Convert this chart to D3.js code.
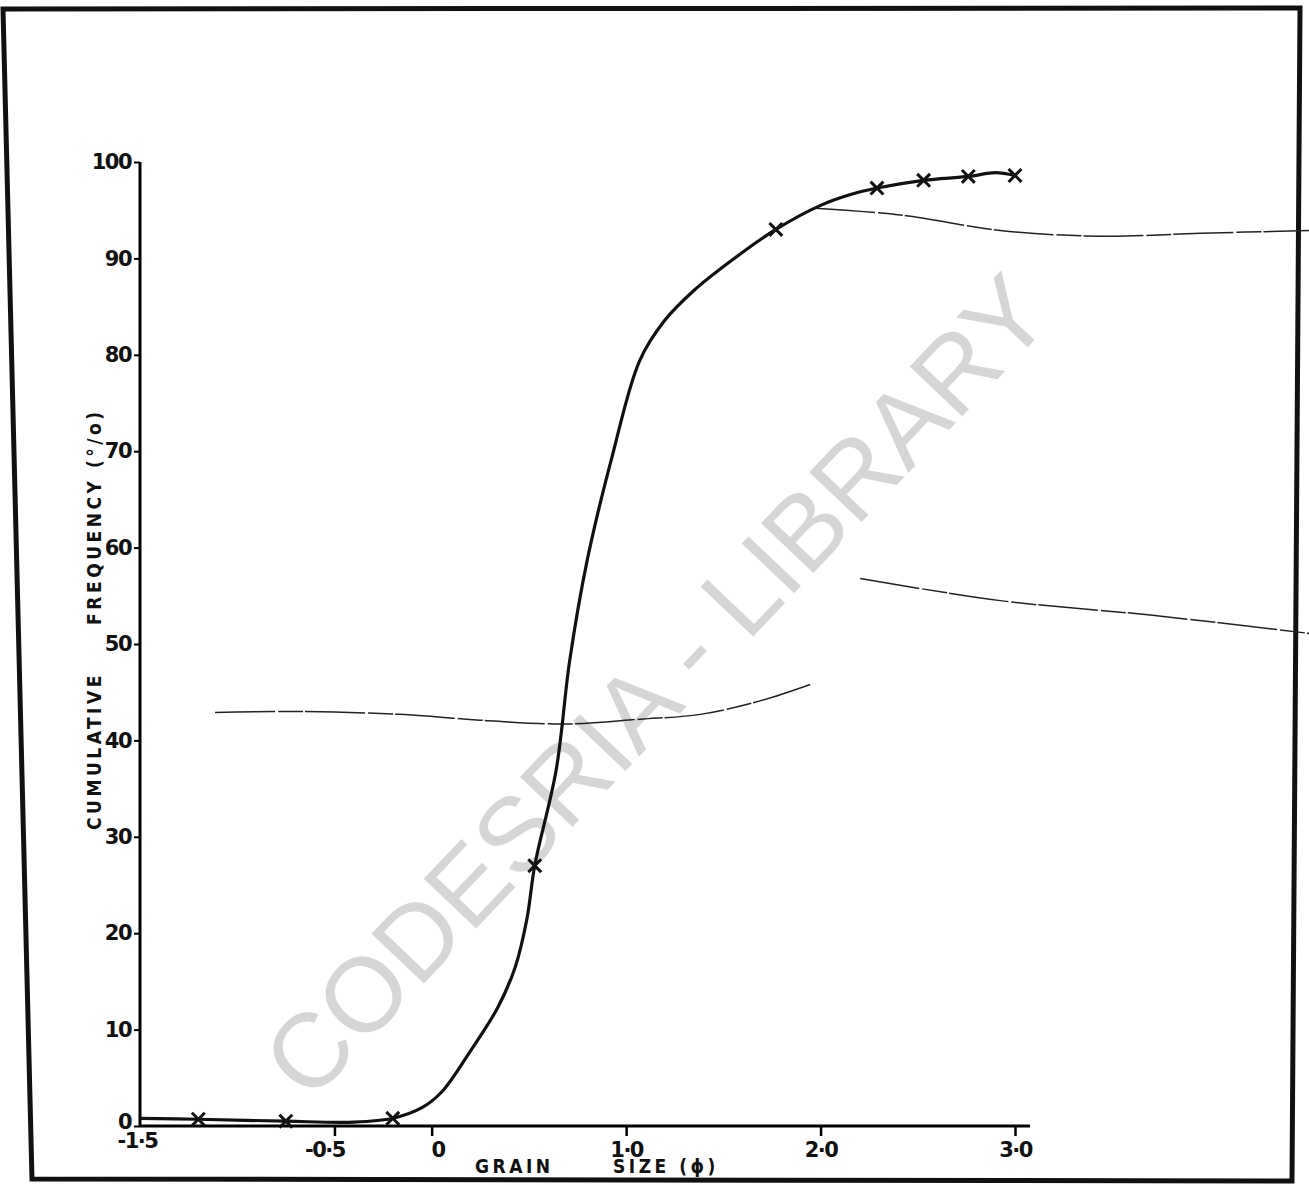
<!DOCTYPE html>
<html>
<head>
<meta charset="utf-8">
<script src="https://cdn.jsdelivr.net/npm/d3@7"></script>
<style>
  body { margin: 0; background: #fff; }
  svg { display: block; }
  .tick text { font-family: "DejaVu Sans", sans-serif; font-weight: bold; font-size: 21px; letter-spacing: -1.5px; fill: #111; }
  .axis-title { font-family: "DejaVu Sans Condensed", "DejaVu Sans", sans-serif; font-weight: bold; font-size: 19px; letter-spacing: 3.5px; fill: #111; white-space: pre; }
</style>
</head>
<body>
<div class="chart"></div>
<script>
// grain size (phi) of the plotted crosses and cumulative frequency (%)
const sampleSize = [-1.2, -0.75, -0.2, 0.53, 1.77, 2.29, 2.53, 2.76, 3.0];
const sampleFreq = [0.7, 0.5, 0.8, 27.0, 93.0, 97.3, 98.1, 98.5, 98.6];

// hand drawn curve through the points
const curveSize = [-1.5, -1.2, -0.75, -0.4, -0.2, -0.05, 0.05, 0.2, 0.34, 0.43, 0.49, 0.53, 0.64, 0.71, 0.8, 0.93, 1.07, 1.2, 1.35, 1.53, 1.77, 2.0, 2.15, 2.29, 2.53, 2.76, 2.9, 3.0];
const curveFreq = [0.8, 0.7, 0.5, 0.4, 0.8, 1.9, 3.5, 7.8, 12.3, 16.5, 21.5, 27.0, 36.9, 48.3, 58.7, 69.6, 79.4, 83.6, 86.7, 89.6, 93.0, 95.5, 96.6, 97.3, 98.1, 98.5, 98.9, 98.6];

// faint lines showing through from the other side of the page
const bleedA = [[-1.114, 42.9], [-0.677, 43.0], [-0.163, 42.7], [0.249, 42.1], [0.691, 41.7], [1.072, 42.2], [1.381, 42.7], [1.689, 44.1], [1.947, 45.8]];
const bleedB = [[1.972, 95.2], [2.409, 94.5], [2.924, 92.9], [3.438, 92.3], [3.953, 92.6], [4.513, 92.9]];
const bleedC = [[2.204, 56.8], [2.924, 54.5], [3.696, 53.0], [4.513, 51.1]];

const xTicks = [-1.5, -0.5, 0, 1, 2, 3];
const xTickLabels = ["-1·5", "-0·5", "0", "1·0", "2·0", "3·0"];
const yTicks = [0, 10, 20, 30, 40, 50, 60, 70, 80, 90, 100];

const width = 1309, height = 1185;
const x = d3.scaleLinear().domain([-1.5, 3.0]).range([140, 1015]);
const y = d3.scaleLinear().domain([0, 100]).range([1126, 162]);

const svg = d3.select(".chart").append("svg")
  .attr("width", width)
  .attr("height", height);

svg.append("rect").attr("width", width).attr("height", height).attr("fill", "#fff");

// page frame
svg.append("path")
  .attr("d", "M3,9 L1300,8 L1292,1181 L32,1179 Z")
  .attr("fill", "none")
  .attr("stroke", "#111")
  .attr("stroke-width", 5);

// watermark
svg.append("text")
  .attr("transform", "translate(655,685) rotate(-46.5)")
  .attr("text-anchor", "middle")
  .attr("dy", "0.36em")
  .style("font-family", "'Liberation Sans', Arial, sans-serif")
  .style("font-size", "105px")
  .style("fill", "#d6d6d6")
  .text("CODESRIA - LIBRARY");

const bleedLine = d3.line()
  .x((d) => x(d[0]))
  .y((d) => y(d[1]))
  .curve(d3.curveCatmullRom);

[bleedA, bleedB, bleedC].forEach((pts) => {
  svg.append("path")
    .datum(pts)
    .attr("d", bleedLine)
    .attr("fill", "none")
    .attr("stroke", "#222")
    .attr("stroke-width", 1.5)
    .attr("stroke-dasharray", "60,3,25,2");
});

// axes
const xAxis = d3.axisBottom(x)
  .tickValues(xTicks)
  .tickFormat((d, i) => xTickLabels[i])
  .tickSize(10)
  .tickPadding(6);

const yAxis = d3.axisLeft(y)
  .tickValues(yTicks)
  .tickSize(6)
  .tickPadding(3);

const gx = svg.append("g")
  .attr("transform", "translate(0," + y(0) + ")")
  .call(xAxis);
gx.select(".domain").attr("d", "M" + x(-1.5) + ",0H" + (x(3) + 15)).attr("stroke-width", 3);
gx.selectAll(".tick line").attr("stroke-width", 2.5);
gx.selectAll(".tick")
  .filter((d) => d === -1.5)
  .call((t) => {
    t.select("line").remove();
    t.select("text").attr("y", 7).attr("x", -3);
  });
gx.selectAll(".tick")
  .filter((d) => d === -0.5)
  .select("text").attr("x", -10);
gx.selectAll(".tick")
  .filter((d) => d === 0)
  .select("text").attr("x", 6);

const gy = svg.append("g")
  .attr("transform", "translate(" + x(-1.5) + ",0)")
  .call(yAxis);
gy.select(".domain").attr("d", "M0," + y(100) + "V" + y(0)).attr("stroke-width", 3);
gy.selectAll(".tick line").attr("stroke-width", 2);
gy.selectAll(".tick")
  .filter((d) => d === 0)
  .select("text").attr("dy", "0.1em");

// axis titles
svg.append("text")
  .attr("class", "axis-title")
  .attr("transform", "translate(101,830) rotate(-90)")
  .text("CUMULATIVE     FREQUENCY (°/o)");

const xTitle = svg.append("text")
  .attr("class", "axis-title")
  .attr("y", 1173);
xTitle.append("tspan").attr("x", 475).text("GRAIN");
xTitle.append("tspan").attr("x", 613).text("SIZE (ϕ)");

// curve
const curvePts = curveSize.map((d, i) => [d, curveFreq[i]]);
const line = d3.line()
  .x((d) => x(d[0]))
  .y((d) => y(d[1]))
  .curve(d3.curveCatmullRom.alpha(0.5));

svg.append("path")
  .datum(curvePts)
  .attr("d", line)
  .attr("fill", "none")
  .attr("stroke", "#111")
  .attr("stroke-width", 3.2)
  .attr("stroke-linejoin", "round");

// cross markers
const marks = sampleSize.map((d, i) => [d, sampleFreq[i]]);
svg.selectAll(".mark")
  .data(marks)
  .enter()
  .append("path")
  .attr("class", "mark")
  .attr("transform", (d) => "translate(" + x(d[0]) + "," + y(d[1]) + ")")
  .attr("d", d3.symbol(d3.symbolX, 110))
  .attr("fill", "none")
  .attr("stroke", "#111")
  .attr("stroke-width", 3);
</script>
</body>
</html>
